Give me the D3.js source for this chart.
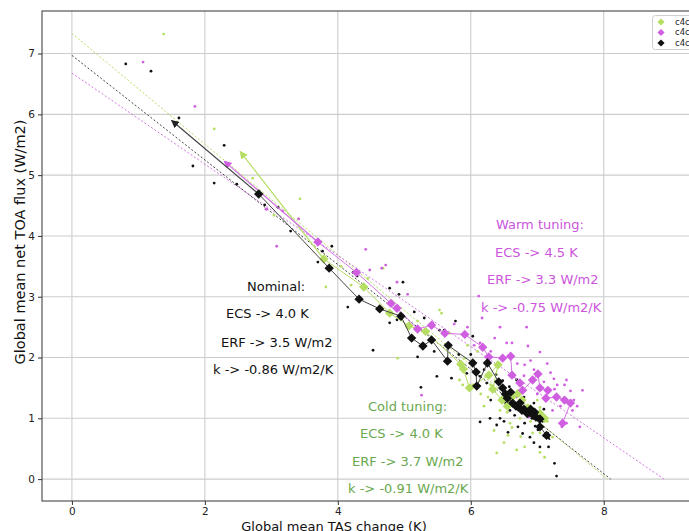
<!DOCTYPE html>
<html>
<head>
<meta charset="utf-8">
<script src="https://cdn.jsdelivr.net/npm/d3@7"></script>
<style>
  body { margin: 0; background: #fff; }
  svg { display: block; font-family: "DejaVu Sans", sans-serif; }
</style>
</head>
<body>
<svg id="chart" width="689" height="531"></svg>
<script>
// legend order: cold (green), warm (magenta), nominal (black)
var seriesNames = ["c4cold", "c4cwarm", "c4control"];

var xTicks = [0, 2, 4, 6, 8];
var yTicks = [0, 1, 2, 3, 4, 5, 6, 7];

// linear fits: y = intercept + slope * x
var fitIntercepts = [7.33, 6.68, 6.97];
var fitSlopes = [-0.91, -0.75, -0.86];

// start arrows (tip of the arrow)
var coldArrowTip = [2.53, 5.39];
var warmArrowTip = [2.29, 5.23];
var nominalArrowTip = [1.50, 5.90];
var nominalEndTip = [7.19, 0.65];

// mean path (diamonds)
var coldPath = [[3.79, 3.62], [4.39, 3.16], [4.78, 2.73], [5.07, 2.52], [5.32, 2.43], [5.85, 1.89], [5.89, 1.81],
    [5.98, 1.50], [6.27, 1.71], [6.41, 1.88], [6.33, 1.48], [6.47, 1.30], [6.55, 1.20], [6.62, 1.35],
    [6.71, 1.41], [6.77, 1.30], [6.86, 1.17], [6.92, 1.12], [7.04, 1.08], [7.11, 1.00]];
var warmPath = [[3.70, 3.90], [4.28, 3.40], [4.80, 2.89], [4.89, 2.81], [5.20, 2.47], [5.41, 2.53], [5.61, 2.40],
    [5.91, 2.38], [6.18, 2.17], [6.27, 2.01], [6.48, 1.99], [6.60, 2.02], [6.62, 1.71], [6.74, 1.58],
    [6.78, 1.46], [6.93, 1.63], [7.01, 1.73], [7.04, 1.50], [7.16, 1.46], [7.13, 1.33], [7.29, 1.35],
    [7.41, 1.30], [7.50, 1.25], [7.38, 0.92]];
var nominalPath = [[2.81, 4.69], [3.87, 3.47], [4.32, 2.96], [4.63, 2.80], [4.95, 2.68], [5.11, 2.32], [5.28, 2.19],
    [5.41, 2.29], [5.65, 1.94], [5.66, 2.20], [6.03, 1.91], [6.08, 1.76], [6.09, 1.53], [6.25, 1.91],
    [6.42, 1.60], [6.48, 1.50], [6.52, 1.40], [6.60, 1.43], [6.55, 1.33], [6.63, 1.25], [6.68, 1.20],
    [6.71, 1.19], [6.74, 1.25], [6.77, 1.13], [6.80, 1.15], [6.85, 1.08], [6.89, 1.10], [6.90, 1.15],
    [6.96, 1.10], [6.94, 1.05], [6.98, 1.02], [7.04, 0.99], [7.04, 0.86], [7.14, 0.72]];

// yearly values (small dots)
var coldDots = [[1.38, 7.32], [2.14, 5.76], [2.72, 4.95], [3.43, 4.61], [3.04, 4.34], [3.41, 4.28], [3.82, 3.16],
    [4.20, 3.19], [4.68, 3.47], [4.96, 2.70], [5.53, 2.78], [4.90, 1.99], [5.56, 2.73], [5.68, 2.40],
    [5.91, 1.99], [5.83, 1.63], [6.39, 0.43], [6.69, 0.48], [6.59, 0.92], [6.93, 0.76], [7.04, 0.76],
    [7.11, 0.36], [6.74, 1.00], [6.26, 1.35], [6.81, 1.30], [7.04, 1.18], [7.23, 0.69], [6.44, 1.13],
    [6.03, 1.55], [5.20, 2.60], [5.40, 2.30], [6.10, 2.10], [6.30, 1.55], [6.55, 1.10], [6.65, 1.20],
    [6.90, 0.95], [7.00, 1.30], [6.50, 0.60], [6.20, 1.20], [5.95, 2.20], [4.45, 3.30], [4.05, 3.50],
    [5.88, 1.55], [6.56, 0.72], [6.81, 0.53], [7.04, 0.44], [6.62, 0.85], [6.75, 0.70], [6.35, 0.80],
    [6.15, 1.40], [6.45, 1.60], [7.15, 0.95]];
var warmDots = [[1.07, 6.86], [1.85, 6.13], [2.92, 4.44], [3.17, 4.41], [3.41, 4.28], [3.08, 3.83], [2.93, 4.44],
    [4.42, 3.78], [4.66, 3.47], [4.48, 3.44], [4.89, 3.24], [5.05, 3.04], [5.43, 2.57], [5.26, 1.38],
    [4.72, 3.52], [6.12, 3.01], [6.44, 2.50], [6.54, 2.24], [6.62, 2.24], [6.81, 1.88], [7.04, 2.09],
    [7.44, 1.63], [7.41, 1.55], [7.53, 1.13], [7.64, 0.86], [6.87, 1.02], [7.23, 1.13], [6.69, 1.35],
    [7.26, 1.48], [6.36, 2.32], [6.14, 2.24], [6.17, 2.65], [7.68, 1.46], [7.44, 0.92], [7.37, 0.86],
    [6.84, 2.50], [6.86, 2.19], [5.75, 2.55], [5.95, 2.50], [6.05, 2.20], [6.30, 2.10], [6.70, 1.90],
    [6.95, 1.80], [7.10, 1.60], [7.20, 1.75], [7.30, 1.55], [7.50, 1.45], [7.35, 1.20], [7.00, 1.40],
    [6.80, 1.70], [7.55, 1.30], [7.15, 1.90], [6.90, 1.95], [7.60, 1.20], [7.25, 1.65]];
var nominalDots = [[0.81, 6.83], [1.19, 6.71], [1.61, 5.94], [2.29, 5.49], [1.82, 5.15], [2.14, 4.87], [2.48, 4.85],
    [2.90, 4.51], [3.10, 4.47], [3.29, 4.08], [3.70, 3.57], [3.77, 3.75], [3.91, 3.83], [4.23, 3.40],
    [4.29, 3.34], [4.15, 2.83], [4.53, 2.12], [4.89, 2.62], [4.98, 3.24], [4.92, 3.04], [4.78, 3.14],
    [4.78, 2.57], [5.20, 2.01], [5.49, 1.69], [5.25, 1.51], [5.53, 2.45], [5.77, 2.60], [6.03, 2.35],
    [5.71, 1.66], [5.94, 1.74], [6.14, 1.69], [6.24, 1.58], [6.29, 1.00], [6.39, 0.89], [6.63, 1.74],
    [6.69, 1.63], [6.59, 1.13], [6.81, 0.92], [6.89, 0.69], [7.17, 0.53], [7.26, 0.26], [7.29, 0.05],
    [7.01, 0.81], [6.14, 0.94], [7.04, 0.53], [6.56, 0.77], [6.44, 1.00], [6.71, 0.86], [6.35, 1.45],
    [6.52, 1.25], [6.66, 1.05], [6.75, 1.22], [6.92, 1.00], [7.08, 0.95], [6.48, 1.62], [6.58, 1.52],
    [6.85, 1.18], [6.97, 0.87], [5.40, 2.55], [5.60, 2.45], [5.45, 2.10], [5.82, 2.05], [6.00, 2.05],
    [6.20, 1.80], [6.38, 1.72], [5.15, 2.75], [5.30, 2.65], [6.60, 1.30], [6.72, 1.40], [6.80, 1.35],
    [6.95, 1.25], [7.10, 1.15], [6.30, 1.30], [6.50, 0.95], [6.78, 0.75], [6.95, 0.60]];

var nominalNotes = ["Nominal:", "ECS -> 4.0 K", "ERF -> 3.5 W/m2", "k -> -0.86 W/m2/K"];
var warmNotes = ["Warm tuning:", "ECS -> 4.5 K", "ERF -> 3.3 W/m2", "k -> -0.75 W/m2/K"];
var coldNotes = ["Cold tuning:", "ECS -> 4.0 K", "ERF -> 3.7 W/m2", "k -> -0.91 W/m2/K"];

var markColors = ["#b5de62", "#cf5fe0", "#111111"];
var lineColors = ["#b5de62", "#d374e2", "#444444"];

var svg = d3.select("#chart");
svg.append("rect").attr("width", 689).attr("height", 531).attr("fill", "#fff");

var plotLeft = 42, plotTop = 11, plotBottom = 501, plotRight = 740;
var x = d3.scaleLinear().domain([-0.45, 10.05]).range([plotLeft, plotRight]);
var y = d3.scaleLinear().domain([-0.36, 7.7]).range([plotBottom, plotTop]);

// grid
var grid = svg.append("g").attr("stroke", "#cdcdcd").attr("stroke-width", 1.1);
grid.selectAll("line.gx").data(xTicks).enter().append("line")
    .attr("x1", function (d) { return x(d); }).attr("x2", function (d) { return x(d); })
    .attr("y1", plotTop).attr("y2", plotBottom);
grid.selectAll("line.gy").data(yTicks).enter().append("line")
    .attr("y1", function (d) { return y(d); }).attr("y2", function (d) { return y(d); })
    .attr("x1", plotLeft).attr("x2", plotRight);

// fit lines
var fits = [0, 1, 2].map(function (i) {
    return [[0, fitIntercepts[i]], [-fitIntercepts[i] / fitSlopes[i], 0]];
});
var line = d3.line().x(function (d) { return x(d[0]); }).y(function (d) { return y(d[1]); });
svg.append("g").selectAll("path").data(fits).enter().append("path")
    .attr("d", line)
    .attr("fill", "none")
    .attr("stroke", function (d, i) { return lineColors[i]; })
    .attr("stroke-width", 1)
    .attr("stroke-dasharray", "2,2");

// dots
var dotSets = [coldDots, warmDots, nominalDots];
dotSets.forEach(function (set, i) {
    svg.append("g").selectAll("circle").data(set).enter().append("circle")
        .attr("cx", function (d) { return x(d[0]); })
        .attr("cy", function (d) { return y(d[1]); })
        .attr("r", 1.4)
        .attr("fill", markColors[i]);
});

// arrow markers
var defs = svg.append("defs");
markColors.forEach(function (c, i) {
    defs.append("marker")
        .attr("id", "arrow" + i)
        .attr("viewBox", "0 0 10 10")
        .attr("refX", 9).attr("refY", 5)
        .attr("markerUnits", "userSpaceOnUse")
        .attr("markerWidth", 8).attr("markerHeight", 8)
        .attr("orient", "auto")
        .append("path").attr("d", "M0,0 L10,5 L0,10 z")
        .attr("fill", i == 2 ? "#222" : c);
});

var paths = [coldPath, warmPath, nominalPath];
var tips = [coldArrowTip, warmArrowTip, nominalArrowTip];
var diamond = d3.symbol().type(d3.symbolSquare).size(44);

paths.forEach(function (p, i) {
    var g = svg.append("g");
    g.append("path")
        .attr("d", line([p[0], tips[i]]))
        .attr("stroke", lineColors[i]).attr("stroke-width", 1.2).attr("fill", "none")
        .attr("marker-end", "url(#arrow" + i + ")");
    if (i == 2) {
        g.append("path")
            .attr("d", line([p[p.length - 1], nominalEndTip]))
            .attr("stroke", lineColors[i]).attr("stroke-width", 1.2).attr("fill", "none")
            .attr("marker-end", "url(#arrow" + i + ")");
    }
    g.append("path")
        .attr("d", line(p))
        .attr("stroke", lineColors[i]).attr("stroke-width", 1).attr("fill", "none");
    g.selectAll("path.mk").data(p).enter().append("path")
        .attr("d", diamond)
        .attr("transform", function (d) { return "translate(" + x(d[0]) + "," + y(d[1]) + ") rotate(45)"; })
        .attr("fill", markColors[i]);
});

// axes
var xAxis = svg.append("g").attr("transform", "translate(0," + plotBottom + ")")
    .call(d3.axisBottom(x).tickValues(xTicks).tickSize(4).tickPadding(3).tickSizeOuter(0));
var yAxis = svg.append("g").attr("transform", "translate(" + plotLeft + ",0)")
    .call(d3.axisLeft(y).tickValues(yTicks).tickSize(4).tickPadding(3).tickSizeOuter(0));
[xAxis, yAxis].forEach(function (a) {
    a.select(".domain").remove();
    a.selectAll("text").attr("font-size", 10.5).attr("fill", "#222").attr("font-family", "DejaVu Sans");
    a.selectAll("line").attr("stroke", "#333");
});

// spines
svg.append("rect").attr("x", plotLeft).attr("y", plotTop)
    .attr("width", plotRight - plotLeft).attr("height", plotBottom - plotTop)
    .attr("fill", "none").attr("stroke", "#333").attr("stroke-width", 1);

// axis labels
svg.append("text").attr("x", 334).attr("y", 530.5).attr("text-anchor", "middle")
    .attr("font-size", 13).attr("fill", "#111").text("Global mean TAS change (K)");
svg.append("text").attr("transform", "translate(25,242) rotate(-90)").attr("text-anchor", "middle")
    .attr("font-size", 14.5).attr("fill", "#111").text("Global mean net TOA flux (W/m2)");

// annotations
function notes(lines, xs, ys, color) {
    svg.append("g").selectAll("text").data(lines).enter().append("text")
        .attr("x", function (d, i) { return xs[i]; })
        .attr("y", function (d, i) { return ys[i]; })
        .attr("dy", "0.35em")
        .attr("font-size", 13)
        .attr("fill", color)
        .text(function (d) { return d; });
}
notes(nominalNotes, [247, 226, 221, 213], [286, 313, 342, 369], "#111");
notes(warmNotes, [496, 495, 487, 481], [224, 252, 279, 307], "#cc55dd");
notes(coldNotes, [368, 360, 352, 348], [406, 433, 461, 488], "#6aa84f");

// legend
var legend = svg.append("g");
legend.append("rect").attr("x", 652.5).attr("y", 15.5).attr("width", 80).attr("height", 34).attr("rx", 3)
    .attr("fill", "#fff").attr("stroke", "#d0d0d0").attr("stroke-width", 1);
var legendSymbol = d3.symbol().type(d3.symbolSquare).size(26);
seriesNames.forEach(function (name, i) {
    var ly = 22 + i * 10.5;
    legend.append("path").attr("d", legendSymbol)
        .attr("transform", "translate(661," + ly + ") rotate(45)")
        .attr("fill", markColors[i]);
    legend.append("text").attr("x", 675).attr("y", ly).attr("dy", "0.35em")
        .attr("font-size", 8.5).attr("fill", "#222").text(name);
});
</script>
</body>
</html>
